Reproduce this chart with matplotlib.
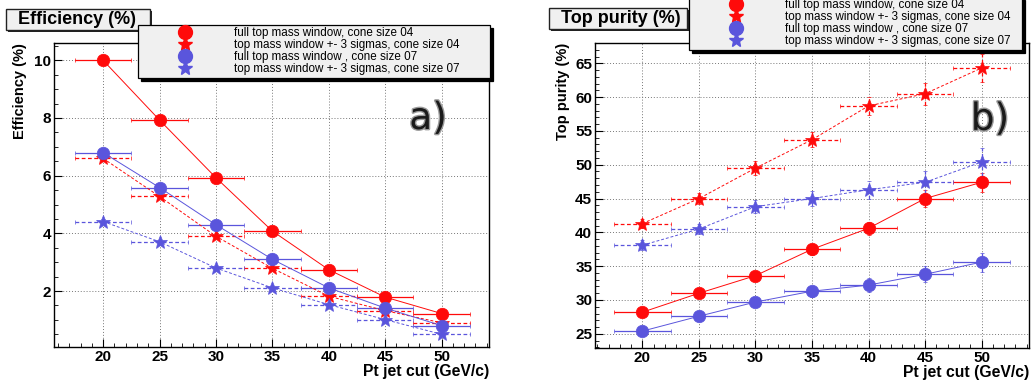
import matplotlib
matplotlib.use("Agg")
import matplotlib.pyplot as plt
from matplotlib.lines import Line2D
from matplotlib.patches import Rectangle
import matplotlib.patheffects as pe

plt.rcParams['font.family'] = ['Liberation Sans', 'DejaVu Sans']

# ---------------- data ----------------
pt_cut = [20, 25, 30, 35, 40, 45, 50]
bin_half = 2.5

# efficiency (%)
eff_full_04 = [10.0, 7.93, 5.93, 4.08, 2.74, 1.79, 1.22]
eff_3sig_04 = [6.6, 5.28, 3.9, 2.79, 1.82, 1.32, 0.9]
eff_full_07 = [6.8, 5.59, 4.3, 3.1, 2.11, 1.41, 0.8]
eff_3sig_07 = [4.41, 3.71, 2.8, 2.11, 1.53, 1.01, 0.5]
eff_err = [0.08, 0.07, 0.06, 0.05, 0.05, 0.04, 0.04]

# top purity (%)
pur_full_04 = [28.2, 31.0, 33.6, 37.5, 40.6, 45.0, 47.4]
pur_3sig_04 = [41.3, 45.0, 49.5, 53.7, 58.7, 60.5, 64.3]
pur_full_07 = [25.4, 27.6, 29.7, 31.3, 32.2, 33.8, 35.6]
pur_3sig_07 = [38.1, 40.5, 43.8, 45.0, 46.3, 47.4, 50.4]
pur_err_full = [0.5, 0.6, 0.7, 0.8, 1.0, 1.2, 1.4]
pur_err_3sig = [0.7, 0.8, 1.0, 1.1, 1.3, 1.6, 2.1]

labels = ["full top mass window, cone size 04",
          "top mass window +- 3 sigmas, cone size 04",
          "full top mass window , cone size 07",
          "top mass window +- 3 sigmas, cone size 07"]

RED = '#ff0a0a'
BLUE = '#5a55dc'

W, H = 1033, 382
fig = plt.figure(figsize=(W / 100, H / 100), dpi=100)


def fx(x):
    return x / W


def fy(y):
    return 1 - y / H


def draw_series(ax, y, yerr, color, marker, ms, dashed):
    ls = '--' if dashed else '-'
    eb = ax.errorbar(pt_cut, y, xerr=bin_half, yerr=yerr, color=color, marker=marker,
                     ms=ms, ls=ls, lw=0.7, elinewidth=0.9, capsize=1.5, capthick=0.8,
                     markeredgewidth=0.5, zorder=3)
    if dashed:
        for lc in eb[2]:
            lc.set_linestyle((0, (3, 2)))
        eb[0].set_dashes((3, 2))
    return eb


def style_axes(ax, yminor):
    ax.set_xticks(pt_cut)
    ax.xaxis.set_minor_locator(matplotlib.ticker.MultipleLocator(1))
    ax.yaxis.set_minor_locator(matplotlib.ticker.MultipleLocator(yminor))
    ax.tick_params(which='both', direction='in', labelsize=11, pad=2)
    ax.tick_params(which='major', length=6, width=0.8)
    ax.tick_params(which='minor', length=3, width=0.6)
    for t in ax.get_xticklabels() + ax.get_yticklabels():
        t.set_fontweight('bold')
    ax.grid(True, which='major', ls=(0, (1, 2)), color='#777777', lw=0.7)
    for s in ax.spines.values():
        s.set_linewidth(1.0)
    ax.set_xlabel("Pt jet cut (GeV/c)", loc='right', fontsize=11.3, fontweight='bold', labelpad=0)


def title_box(x0, y0, x1, y1, text):
    # drawn below the axes so the legend box can cover its corner
    fig.patches.append(Rectangle((fx(x0) + 2 / W, fy(y1) - 2 / H), fx(x1 - x0), (y1 - y0) / H,
                                 transform=fig.transFigure, facecolor='#222222', edgecolor='none', zorder=-3))
    fig.patches.append(Rectangle((fx(x0), fy(y1)), fx(x1 - x0), (y1 - y0) / H,
                                 transform=fig.transFigure, facecolor='#f0f0f0', edgecolor='#222222',
                                 lw=1, zorder=-2))
    fig.text(fx(x0 + 12), fy((y0 + y1) / 2), text, fontsize=13, fontweight='bold',
             va='center', ha='left', zorder=-1)


def add_legend(ax, x0, y0, x1, y1):
    handles = [Line2D([], [], color=RED, marker='o', ms=10, ls='none'),
               Line2D([], [], color=RED, marker='*', ms=11, ls='none'),
               Line2D([], [], color=BLUE, marker='o', ms=10, ls='none'),
               Line2D([], [], color=BLUE, marker='*', ms=11, ls='none')]
    leg = ax.legend(handles, labels, loc='upper left',
                    bbox_to_anchor=(fx(x0), fy(y1), fx(x1 - x0), (y1 - y0) / H),
                    bbox_transform=fig.transFigure, mode='expand', fontsize=8.4,
                    frameon=True, fancybox=False, framealpha=1, facecolor='#f0f0f0',
                    edgecolor='black', handlelength=7.6, handletextpad=0.4,
                    labelspacing=0.0, borderpad=0.2, borderaxespad=0,
                    shadow={'color': 'black', 'alpha': 1, 'ox': 2.5, 'oy': -2.5})
    leg.get_frame().set_linewidth(0.9)
    leg.set_zorder(10)
    return leg


def panel_tag(ax, x, y, text):
    ax.text(x, y, text, transform=ax.transAxes, fontsize=27, color='#1a1a1a',
            family='DejaVu Sans', ha='center', va='center', zorder=4,
            path_effects=[pe.withStroke(linewidth=2.0, foreground='#9a9a9a')])


# ---------------- a) efficiency ----------------
ax1 = fig.add_axes([fx(54), fy(347), fx(489 - 54), (347 - 43) / H])
draw_series(ax1, eff_full_04, eff_err, RED, 'o', 9, False)
draw_series(ax1, eff_3sig_04, eff_err, RED, '*', 10, True)
draw_series(ax1, eff_full_07, eff_err, BLUE, 'o', 9, False)
draw_series(ax1, eff_3sig_07, eff_err, BLUE, '*', 10, True)
ax1.set_xlim(15.65, 54.2)
ax1.set_ylim(0.06, 10.6)
ax1.set_yticks([2, 4, 6, 8, 10])
style_axes(ax1, 0.5)
ax1.set_ylabel("Efficiency (%)", loc='top', fontsize=10.5, fontweight='bold', labelpad=5)
panel_tag(ax1, 0.86, 0.75, "a)")
add_legend(ax1, 138, 25, 490, 72)
title_box(6, 9, 150, 30, "Efficiency (%)")

# ---------------- b) top purity ----------------
ax2 = fig.add_axes([fx(595), fy(348), fx(1029 - 595), (348 - 43) / H])
draw_series(ax2, pur_full_04, pur_err_full, RED, 'o', 9, False)
draw_series(ax2, pur_3sig_04, pur_err_3sig, RED, '*', 10, True)
draw_series(ax2, pur_full_07, pur_err_full, BLUE, 'o', 9, False)
draw_series(ax2, pur_3sig_07, pur_err_3sig, BLUE, '*', 10, True)
ax2.set_xlim(15.8, 54.2)
ax2.set_ylim(22.9, 68.0)
ax2.set_yticks([25, 30, 35, 40, 45, 50, 55, 60, 65])
style_axes(ax2, 1)
ax2.set_ylabel("Top purity (%)", loc='top', fontsize=10.5, fontweight='bold', labelpad=4)
panel_tag(ax2, 0.91, 0.748, "b)")
add_legend(ax2, 689, -3, 1022, 52)
title_box(549, 8, 687, 29, "Top purity (%)")

fig.savefig("out.png", dpi=100)
